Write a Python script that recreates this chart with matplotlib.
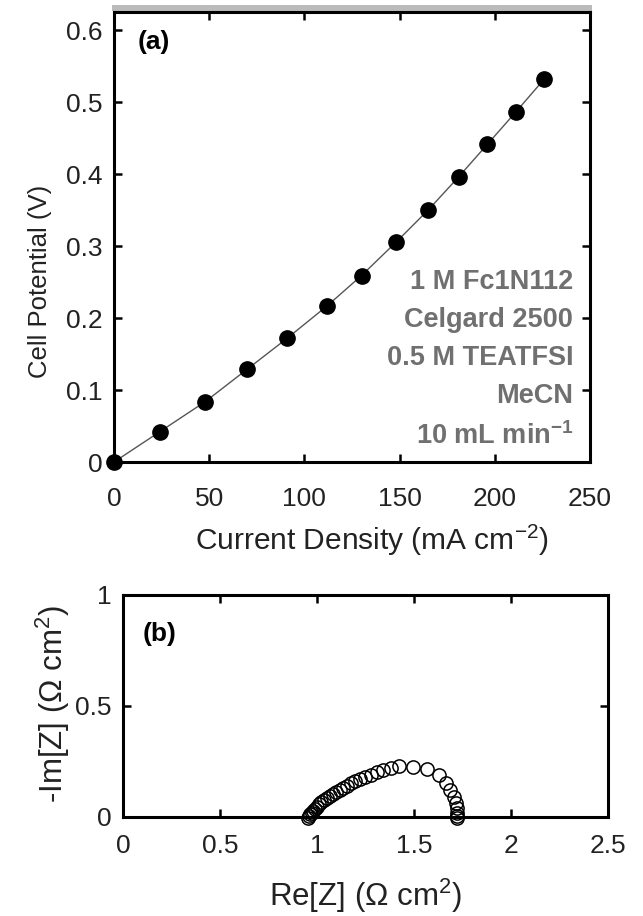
import numpy as np
import matplotlib.pyplot as plt
from matplotlib.patches import Rectangle

plt.rcParams['font.family'] = ['Liberation Sans', 'DejaVu Sans']
plt.rcParams['mathtext.fontset'] = 'custom'
plt.rcParams['mathtext.rm'] = 'Liberation Sans'
plt.rcParams['mathtext.it'] = 'Liberation Sans:italic'
plt.rcParams['mathtext.bf'] = 'Liberation Sans:bold'

# (a) polarization curve
current_density = [0, 24, 48, 70, 91, 112, 130, 148, 165, 181, 196, 211, 226]
cell_potential = [0, 0.042, 0.084, 0.129, 0.172, 0.217, 0.259, 0.305, 0.350,
                  0.396, 0.441, 0.486, 0.532]

# (b) Nyquist plot
re_z = [0.955, 0.960, 0.966, 0.973, 0.981, 0.990, 1.000, 1.011, 1.023, 1.036,
        1.050, 1.065, 1.081, 1.098, 1.116, 1.135, 1.155, 1.176, 1.198, 1.222,
        1.248, 1.276, 1.307, 1.342, 1.381, 1.425, 1.495, 1.568, 1.630, 1.665,
        1.688, 1.704, 1.714, 1.720, 1.723, 1.724, 1.722]
im_z = [-0.005, 0.004, 0.012, 0.020, 0.029, 0.038, 0.047, 0.057, 0.066, 0.075,
        0.085, 0.094, 0.103, 0.112, 0.122, 0.131, 0.141, 0.151, 0.161, 0.171,
        0.181, 0.191, 0.201, 0.211, 0.220, 0.228, 0.226, 0.215, 0.190, 0.155,
        0.122, 0.092, 0.064, 0.040, 0.020, 0.006, -0.004]

conditions = ["1 M Fc1N112", "Celgard 2500", "0.5 M TEATFSI", "MeCN",
              r"10 mL min$^{\mathbf{-1}}$"]

fig = plt.figure(figsize=(6.43, 9.16), dpi=100)
ax1 = fig.add_axes([0.1773, 0.4956, 0.7403, 0.4913])
ax2 = fig.add_axes([0.1913, 0.1081, 0.7543, 0.2424])

# faint grey band above the top panel
fig.add_artist(Rectangle((0.174, 0.9880), 0.747, 0.0065, transform=fig.transFigure,
                         color='#bbbbbb', lw=0, zorder=0))

def style(ax, xpad):
    for s in ax.spines.values():
        s.set_linewidth(2.2)
    ax.tick_params(direction='in', length=6, width=1.8, top=True, right=True,
                   labelsize=19, colors='black', labelcolor='#222222')
    ax.tick_params(axis='y', pad=8)
    ax.tick_params(axis='x', pad=xpad)

ax1.plot(current_density, cell_potential, '-', color='#555555', lw=1.0,
         marker='o', markersize=11, markerfacecolor='black',
         markeredgecolor='black', clip_on=False, zorder=3)
ax1.set_xlim(0, 250)
ax1.set_ylim(0, 0.625)
ax1.set_xticks([0, 50, 100, 150, 200, 250])
ax1.set_yticks([0, 0.1, 0.2, 0.3, 0.4, 0.5, 0.6])
ax1.set_yticklabels(['0', '0.1', '0.2', '0.3', '0.4', '0.5', '0.6'])
ax1.set_xlabel(r"Current Density (mA cm$^{-2}$)", fontsize=21.5,
               color='#222222')
ax1.xaxis.set_label_coords(0.542, -0.136)
ax1.set_ylabel("Cell Potential (V)", fontsize=18.5, color='#222222')
ax1.yaxis.set_label_coords(-0.130, 0.402)
style(ax1, 18)
ax1.text(0.05, 0.96, "(a)", transform=ax1.transAxes, fontsize=19,
         fontweight='bold', va='top', ha='left')
ax1.text(0.965, 0.027, "\n".join(conditions), transform=ax1.transAxes,
         fontsize=19.5, fontweight='bold', color='#707070', ha='right',
         va='bottom', multialignment='right', linespacing=1.6)

ax2.plot(re_z, im_z, 'o', markersize=9.5, markerfacecolor='none',
         markeredgecolor='black', markeredgewidth=1.1, clip_on=False)
ax2.set_xlim(0, 2.5)
ax2.set_ylim(0, 1)
ax2.set_xticks([0, 0.5, 1, 1.5, 2, 2.5])
ax2.set_xticklabels(['0', '0.5', '1', '1.5', '2', '2.5'])
ax2.set_yticks([0, 0.5, 1])
ax2.set_yticklabels(['0', '0.5', '1'])
ax2.set_xlabel(r"Re[Z] ($\Omega$ cm$^{2}$)", fontsize=22.5, labelpad=14,
               color='#222222')
ax2.set_ylabel(r"-Im[Z] ($\Omega$ cm$^{2}$)", fontsize=22.5, color='#222222')
ax2.yaxis.set_label_coords(-0.105, 0.51)
style(ax2, 12)
ax2.text(0.04, 0.88, "(b)", transform=ax2.transAxes, fontsize=19,
         fontweight='bold', va='top', ha='left')

fig.savefig("out.png", dpi=100)
